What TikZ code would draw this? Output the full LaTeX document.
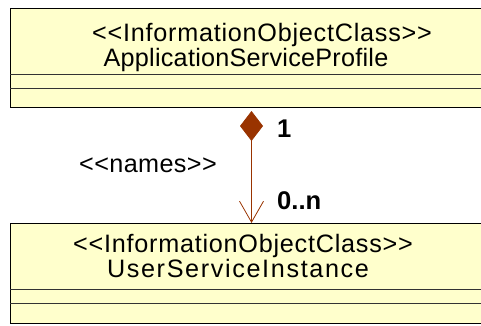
\documentclass[tikz,border=0pt]{standalone}
\usepackage{fontspec}
\setmainfont{Liberation Sans}[Ligatures=TeXOff]
\usetikzlibrary{arrows.meta}
\definecolor{classfill}{HTML}{FFFFCC}
\definecolor{assoc}{HTML}{993300}
\newcommand{\spaced}[2]{{\addfontfeatures{LetterSpace=#1}#2}}
\begin{document}
\begin{tikzpicture}[x=1pt,y=-1pt,
  classbox/.style={draw=black, line width=1pt, fill=classfill, inner sep=0pt, anchor=north west},
  sep/.style={draw=black!80, line width=0.9pt},
  label/.style={font=\fontsize{25.2}{28}\selectfont, inner sep=0pt,
    text height=17pt, text depth=4pt},
  mult/.style={font=\fontsize{25.6}{28}\selectfont\bfseries, inner sep=0pt, anchor=west},
  assocline/.style={draw=assoc, line width=0.8pt,
    {Diamond[length=30pt,width=23pt,fill=assoc]}-{Straight Barb[length=21pt,width=24pt,line width=0.8pt]},
    shorten <=3pt}
]
\useasboundingbox (0,0) rectangle (481,325);
\clip (0,0) rectangle (481,325);

% class ApplicationServiceProfile
\node[classbox, minimum width=482pt, minimum height=99pt] (asp) at (10,8) {};
\draw[sep] (10,74) -- (492,74);
\draw[sep] (10,88) -- (492,88);
\node[label] (aspst) at (262,35) {\spaced{3}{<<InformationObjectClass>>}};
\node[label] (aspname) at (246,59.5) {\spaced{1}{ApplicationServiceProfile}};

% class UserServiceInstance
\node[classbox, minimum width=482pt, minimum height=100pt] (usi) at (10,223) {};
\draw[sep] (10,289) -- (492,289);
\draw[sep] (10,303) -- (492,303);
\node[label] (usist) at (243,246) {\spaced{3}{<<InformationObjectClass>>}};
\node[label] (usiname) at (238,271) {\spaced{6.5}{UserServiceInstance}};

% composition <<names>>
\draw[assocline] (asp.south) -- (usi.north);
\node[mult] (m1) at (277,129) {1};
\node[mult] (m2) at (277,201) {0..n};
\node[label] (names) at (148,166) {\spaced{1.5}{<<names>>}};
\end{tikzpicture}
\end{document}
